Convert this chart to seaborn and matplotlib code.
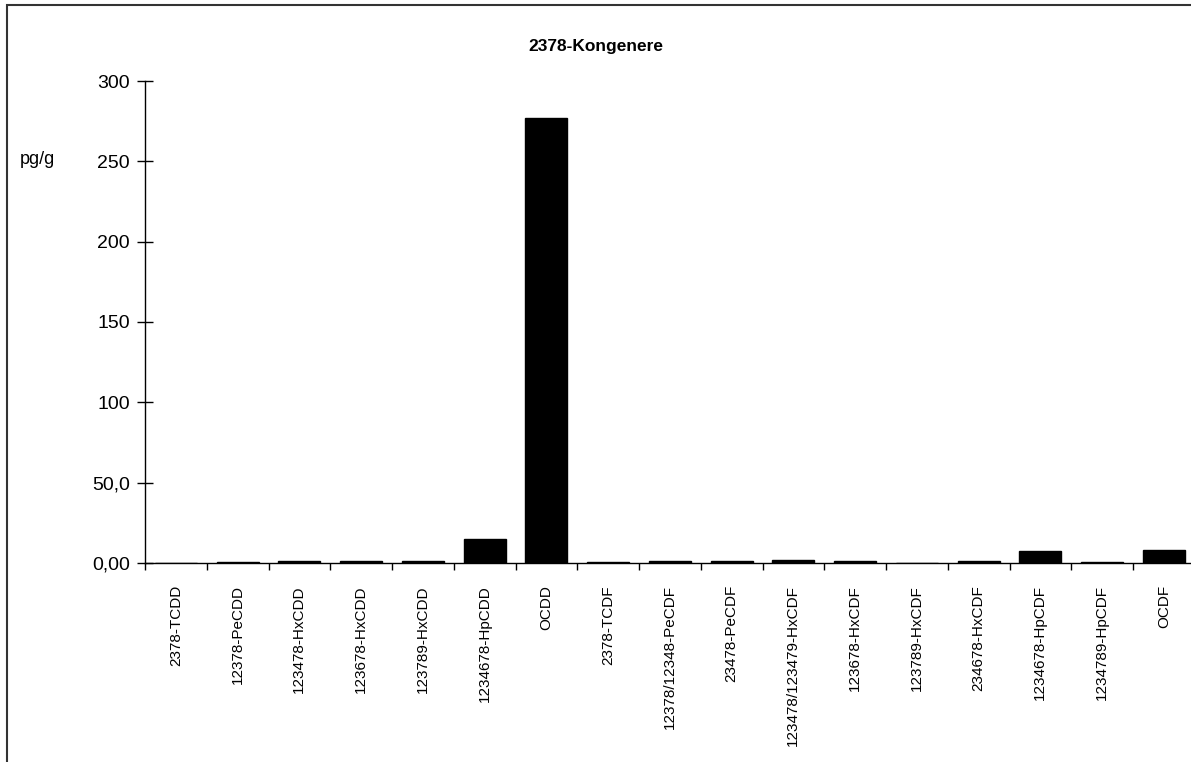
import seaborn as sns
import matplotlib.pyplot as plt
from matplotlib.patches import Rectangle
from matplotlib.ticker import FixedLocator, FixedFormatter

# kongenere og konsentrasjoner (pg/g)
kongenere = ["2378-TCDD", "12378-PeCDD", "123478-HxCDD", "123678-HxCDD",
             "123789-HxCDD", "1234678-HpCDD", "OCDD", "2378-TCDF",
             "12378/12348-PeCDF", "23478-PeCDF", "123478/123479-HxCDF",
             "123678-HxCDF", "123789-HxCDF", "234678-HxCDF", "1234678-HpCDF",
             "1234789-HpCDF", "OCDF"]
verdier = [0.0, 0.5, 1.0, 1.0, 1.0, 15.0, 277.0, 0.9,
           1.2, 1.2, 2.1, 1.2, 0.0, 1.4, 7.3, 0.9, 8.4]

y_ticks = [0, 50, 100, 150, 200, 250, 300]
y_labels = ["0,00", "50,0", "100", "150", "200", "250", "300"]

sns.set_style("white")
plt.rcParams["font.family"] = ["Liberation Sans", "DejaVu Sans"]
plt.rcParams["text.color"] = "black"
plt.rcParams["xtick.color"] = "black"
plt.rcParams["ytick.color"] = "black"

fig = plt.figure(figsize=(11.91, 7.62), dpi=100)
ax = fig.add_axes([145 / 1191, 199 / 762, 17 * 61.75 / 1191, 482 / 762])

sns.barplot(x=kongenere, y=verdier, color="black", edgecolor="black",
            width=0.68, saturation=1, ax=ax)

ax.set_xlim(-0.5, len(kongenere) - 0.5)
ax.set_ylim(0, 300)

# y-akse
ax.yaxis.set_major_locator(FixedLocator(y_ticks))
ax.yaxis.set_major_formatter(FixedFormatter(y_labels))
ax.tick_params(axis="y", direction="inout", length=12, width=1,
               labelsize=14, pad=5, left=True)

# x-akse: etiketter midt på, streker mellom kategoriene
ax.set_xticks(range(len(kongenere)))
ax.set_xticklabels(kongenere, rotation=90, va="top", ha="center")
ax.tick_params(axis="x", which="major", length=0, labelsize=11, pad=16)
ax.set_xticks([i - 0.5 for i in range(len(kongenere) + 1)], minor=True)
ax.tick_params(axis="x", which="minor", direction="out", length=5,
               width=1, bottom=True)

for s in ["top", "right"]:
    ax.spines[s].set_visible(False)
for s in ["left", "bottom"]:
    ax.spines[s].set_color("black")
    ax.spines[s].set_linewidth(1)

ax.set_xlabel("")
ax.set_ylabel("")

fig.text(0.5, 1 - 47 / 762, "2378-Kongenere", ha="center", va="center",
         fontsize=12.5, fontweight="bold")
fig.text(20 / 1191, 1 - 160 / 762, "pg/g", ha="left", va="center", fontsize=13)

# ramme rundt diagrammet
fig.patches.append(Rectangle((6.5 / 1191, -0.05), 1.0, 1.05 - 4.5 / 762,
                             transform=fig.transFigure, fill=False,
                             edgecolor="#333333", linewidth=1.5))

fig.savefig("out.png", dpi=100)
